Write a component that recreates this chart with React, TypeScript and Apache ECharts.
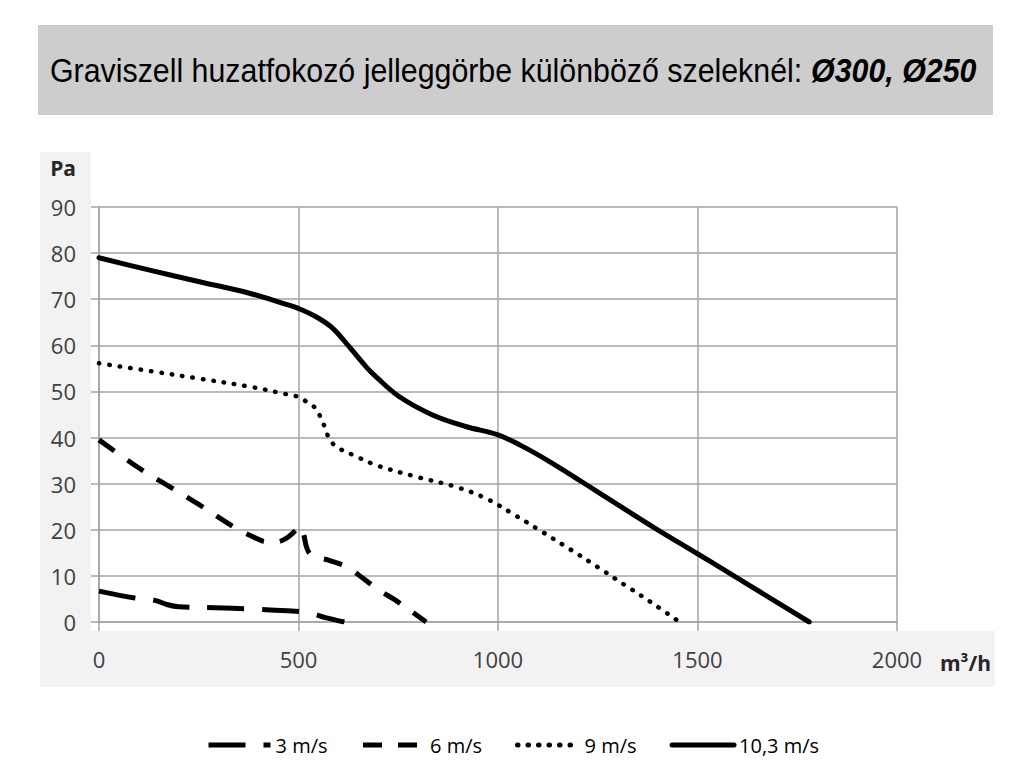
import React, { useEffect, useRef } from "react";
import * as echarts from "echarts";

const titleNormal = "Graviszell huzatfokozó jelleggörbe különböző szeleknél: ";
const titleBold = "Ø300, Ø250";

const seriesNames = ["3 m/s", "6 m/s", "9 m/s", "10,3 m/s"];

const flow3 = [0, 90, 140, 170, 200, 290, 380, 430, 520, 570, 615];
const pa3 = [6.7, 5.2, 4.7, 3.8, 3.3, 3.1, 2.8, 2.6, 2.1, 0.9, 0];

const flow6 = [0, 100, 180, 250, 340, 390, 420, 445, 470, 495, 505, 513, 520, 532, 575, 620, 660, 700, 740, 780, 820];
const pa6 = [39.5, 33.4, 29.2, 25.5, 20.5, 18.3, 17.4, 17.4, 18.2, 20.0, 20.7, 19.0, 16.3, 14.5, 13.4, 12.0, 9.6, 7.0, 4.9, 2.5, 0];

const flow9 = [0, 130, 250, 380, 470, 500, 518, 540, 555, 566, 577, 595, 645, 695, 795, 895, 970, 1040, 1110, 1180, 1250, 1320, 1385, 1455];
const pa9 = [56.1, 54.4, 52.8, 51.0, 49.4, 48.8, 47.9, 46.6, 44.5, 42.2, 39.8, 38.0, 35.9, 34.0, 31.5, 29.3, 26.8, 23.3, 19.6, 15.8, 11.9, 7.9, 4.2, 0];

const flow10 = [0, 127, 252, 377, 461, 500, 544, 586, 627, 669, 694, 752, 836, 919, 1000, 1057, 1127, 1214, 1301, 1389, 1500, 1580, 1680, 1780];
const pa10 = [79.0, 76.3, 73.8, 71.3, 69.1, 68.0, 66.2, 63.7, 59.7, 55.4, 53.2, 48.9, 44.9, 42.4, 40.6, 38.3, 34.9, 30.2, 25.4, 20.6, 14.8, 10.6, 5.3, 0];

const xMin = 0;
const xMax = 2000;
const xStep = 500;
const yMin = 0;
const yMax = 90;
const yStep = 10;

const zip = (xs: number[], ys: number[]) => xs.map((x, i) => [x, ys[i]]);

function measure(text: string, font: string): number {
  const ctx = document.createElement("canvas").getContext("2d");
  if (!ctx) return text.length * 14;
  ctx.font = font;
  return ctx.measureText(text).width;
}

export default function App() {
  const ref = useRef<HTMLDivElement>(null);

  useEffect(() => {
    document.body.style.margin = "0";
    if (!ref.current) return;
    const chart = echarts.init(ref.current, undefined, { renderer: "svg" });

    const tf = 33;
    const w1 = measure(titleNormal, `${tf}px "Liberation Sans"`);
    const w2 = measure(titleBold, `italic bold ${tf}px "Liberation Sans"`);
    const scaleX = 927 / (w1 + w2);

    const grid = "#a3a3a3";
    const labelColor = "#404040";
    const font = "Open Sans";

    const base = {
      type: "line" as const,
      symbol: "none",
      showSymbol: false,
      smooth: 0.35,
      color: "#000",
    };

    chart.setOption({
      animation: false,
      backgroundColor: "transparent",
      graphic: [
        { type: "rect", z: -10, shape: { x: 40, y: 152, width: 955, height: 535 }, style: { fill: "#f2f2f2" } },
        { type: "rect", z: -9, shape: { x: 91, y: 152, width: 910, height: 479 }, style: { fill: "#ffffff" } },
        { type: "rect", z: -9, shape: { x: 38, y: 25, width: 955, height: 90 }, style: { fill: "#cdcdcd" } },
        {
          type: "text",
          z: 10,
          x: 50,
          y: 71,
          scaleX,
          style: {
            text: `{n|${titleNormal}}{b|${titleBold}}`,
            fill: "#000",
            align: "left",
            verticalAlign: "middle",
            rich: {
              n: { fontSize: tf, fontFamily: "Liberation Sans", fill: "#000" },
              b: { fontSize: tf, fontFamily: "Liberation Sans", fontWeight: "bold", fontStyle: "italic", fill: "#000" },
            },
          },
        },
      ],
      legend: {
        left: 206,
        top: 735,
        padding: 0,
        itemWidth: 62,
        itemHeight: 14,
        itemGap: 33,
        data: seriesNames,
        textStyle: { fontFamily: font, fontSize: 20, color: "#000" },
        lineStyle: { width: 5 },
        itemStyle: { color: "rgba(0,0,0,0)", borderColor: "rgba(0,0,0,0)", borderWidth: 0, opacity: 0 },
      },
      grid: { left: 99, top: 207, right: 127, bottom: 161 },
      xAxis: {
        type: "value",
        min: xMin,
        max: xMax,
        interval: xStep,
        name: "m³/h",
        nameLocation: "end",
        nameGap: 43,
        nameTextStyle: {
          fontFamily: font,
          fontSize: 21,
          fontWeight: "bold",
          color: "#262626",
          verticalAlign: "top",
          padding: [30, 0, 0, 0],
        },
        axisLine: { show: true, lineStyle: { color: grid, width: 1.5 } },
        axisTick: { show: true, length: 9, lineStyle: { color: grid, width: 1.5 } },
        splitLine: { show: true, lineStyle: { color: grid, width: 1.5 } },
        axisLabel: {
          fontFamily: font,
          fontSize: 22,
          color: labelColor,
          margin: 26,
          formatter: (v: number) => String(v),
        },
      },
      yAxis: {
        type: "value",
        min: yMin,
        max: yMax,
        interval: yStep,
        name: "Pa",
        nameLocation: "end",
        nameGap: 29,
        nameTextStyle: {
          fontFamily: font,
          fontSize: 21,
          fontWeight: "bold",
          color: "#262626",
          align: "right",
          padding: [0, 23, 0, 0],
        },
        axisLine: { show: true, lineStyle: { color: grid, width: 1.5 } },
        axisTick: { show: true, length: 8, lineStyle: { color: grid, width: 1.5 } },
        splitLine: { show: true, lineStyle: { color: grid, width: 1.5 } },
        axisLabel: {
          fontFamily: font,
          fontSize: 22,
          color: labelColor,
          margin: 23,
          formatter: (v: number) => String(v),
        },
      },
      series: [
        {
          ...base,
          name: seriesNames[0],
          data: zip(flow3, pa3),
          lineStyle: { color: "#000", width: 5, type: [37, 18], cap: "butt" },
        },
        {
          ...base,
          name: seriesNames[1],
          data: zip(flow6, pa6),
          lineStyle: { color: "#000", width: 5, type: [19, 16], cap: "butt" },
        },
        {
          ...base,
          name: seriesNames[2],
          data: zip(flow9, pa9),
          lineStyle: { color: "#000", width: 4.5, type: [0.5, 10], cap: "round" },
        },
        {
          ...base,
          name: seriesNames[3],
          data: zip(flow10, pa10),
          lineStyle: { color: "#000", width: 5, type: "solid", cap: "round" },
        },
      ],
    });

    return () => chart.dispose();
  }, []);

  return (
    <div
      ref={ref}
      style={{ position: "absolute", left: 0, top: 0, width: 1024, height: 783 }}
    />
  );
}
